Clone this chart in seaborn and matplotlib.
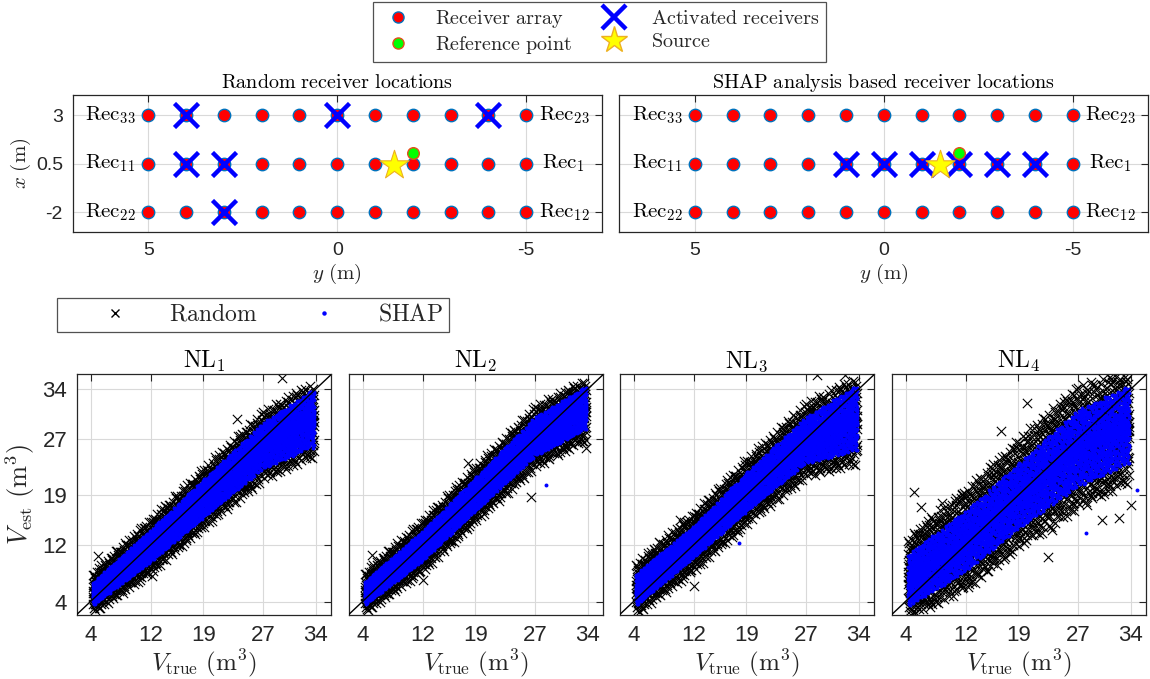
import numpy as np
import pandas as pd
import matplotlib
matplotlib.use('Agg')
import matplotlib.pyplot as plt
import seaborn as sns
from matplotlib.lines import Line2D

sns.set_theme(style='white')
plt.rcParams['font.family'] = ['Liberation Sans', 'DejaVu Sans']
plt.rcParams['mathtext.fontset'] = 'cm'
plt.rcParams['axes.unicode_minus'] = False

# ---------------- data: receiver layout ----------------
rec_y = [5, 4, 3, 2, 1, 0, -1, -2, -3, -4, -5]
rec_rows = [3, 0.5, -2]
rec_labels_left = [r'$\mathrm{Rec}_{33}$', r'$\mathrm{Rec}_{11}$', r'$\mathrm{Rec}_{22}$']
rec_labels_right = [r'$\mathrm{Rec}_{23}$', r'$\mathrm{Rec}_{1}$', r'$\mathrm{Rec}_{12}$']
random_active_y = [4, 0, -4, 4, 3, 3]
random_active_x = [3, 3, 3, 0.5, 0.5, -2]
shap_active_y = [1, 0, -1, -2, -3, -4]
shap_active_x = [0.5, 0.5, 0.5, 0.5, 0.5, 0.5]
ref_y = [-2]
ref_x = [1.05]
src_y = [-1.5]
src_x = [0.45]
y_ticks_top = [5, 0, -5]
x_ticks_top = [-2, 0.5, 3]
x_ticklabels_top = ['-2', '0.5', '3']

# ---------------- data: estimation scatter (band envelopes) ----------------
v_ticks = [4, 12, 19, 27, 34]
v_knots = [4, 12, 19, 27, 34]
v_true_min = 4.3
v_true_max = 33.8

nl1_shap_lo = [3.25, 9.6, 15.85, 22.75, 26.15]
nl1_shap_hi = [6.35, 14.1, 21.15, 29.25, 34.15]
nl1_rand_lo = [2.0, 8.0, 14.3, 21.1, 24.5]
nl1_rand_hi = [7.8, 15.7, 22.8, 30.9, 35.3]
nl1_out_true = [29.5, 33.7, 5.0, 12.2, 23.5, 33.5]
nl1_out_est = [35.6, 25.3, 10.4, 7.6, 29.7, 27.9]
nl1_shap_out_true = [31.0, 33.6]
nl1_shap_out_est = [24.6, 25.7]

nl2_shap_lo = [3.3, 9.75, 16.8, 24.5, 28.5]
nl2_shap_hi = [6.5, 13.95, 21.4, 30.0, 34.5]
nl2_rand_lo = [2.1, 8.2, 15.2, 22.8, 26.8]
nl2_rand_hi = [7.9, 15.5, 23.0, 31.6, 35.6]
nl2_out_true = [5.2, 12.0, 26.4, 33.7, 33.7, 18.1, 32.1]
nl2_out_est = [10.6, 7.0, 18.8, 25.6, 26.8, 23.5, 34.1]
nl2_shap_out_true = [28.4]
nl2_shap_out_est = [20.5]

nl3_shap_lo = [3.2, 10.2, 16.7, 23.55, 25.3]
nl3_shap_hi = [7.6, 14.6, 22.1, 30.05, 34.7]
nl3_rand_lo = [1.8, 8.3, 14.7, 21.5, 23.3]
nl3_rand_hi = [9.3, 16.5, 24.1, 32.1, 36.0]
nl3_out_true = [12.0, 10.2, 28.4, 32.2, 33.8, 33.5]
nl3_out_est = [6.2, 15.5, 36.0, 36.0, 25.4, 26.5]
nl3_shap_out_true = [18.0]
nl3_shap_out_est = [12.3]

nl4_shap_lo = [3.15, 8.25, 14.3, 20.25, 23.55]
nl4_shap_hi = [10.35, 16.75, 23.4, 31.05, 34.55]
nl4_rand_lo = [1.5, 5.6, 11.4, 17.0, 20.8]
nl4_rand_hi = [12.9, 19.9, 26.9, 34.6, 36.5]
nl4_out_true = [5.1, 6.0, 22.9, 23.5, 34.0, 16.7, 20.2, 30.2, 32.4, 8.9, 11.5]
nl4_out_est = [19.5, 17.4, 10.3, 14.1, 17.6, 28.0, 32.0, 15.5, 15.8, 17.9, 19.0]
nl4_shap_out_true = [34.8, 28.0]
nl4_shap_out_est = [19.8, 13.6]

panel_titles = [r'$\mathrm{NL}_1$', r'$\mathrm{NL}_2$', r'$\mathrm{NL}_3$', r'$\mathrm{NL}_4$']

panels = [
    (nl1_rand_lo, nl1_rand_hi, nl1_shap_lo, nl1_shap_hi, nl1_out_true, nl1_out_est, nl1_shap_out_true, nl1_shap_out_est),
    (nl2_rand_lo, nl2_rand_hi, nl2_shap_lo, nl2_shap_hi, nl2_out_true, nl2_out_est, nl2_shap_out_true, nl2_shap_out_est),
    (nl3_rand_lo, nl3_rand_hi, nl3_shap_lo, nl3_shap_hi, nl3_out_true, nl3_out_est, nl3_shap_out_true, nl3_shap_out_est),
    (nl4_rand_lo, nl4_rand_hi, nl4_shap_lo, nl4_shap_hi, nl4_out_true, nl4_out_est, nl4_shap_out_true, nl4_shap_out_est),
]


def van_der_corput(k, base):
    k = k.copy()
    out = np.zeros(len(k))
    f = 1.0 / base
    while np.any(k > 0):
        out += f * (k % base)
        k //= base
        f /= base
    return out


def fill_band(lo, hi, n, offset, p):
    # deterministic (Halton) fill of the band between the read envelopes,
    # denser towards the middle of the band (exponent p)
    k = np.arange(n) + offset
    u = van_der_corput(k, 2)
    w = van_der_corput(k, 3)
    vt = v_true_min + u * (v_true_max - v_true_min)
    l = np.interp(vt, v_knots, lo)
    h = np.interp(vt, v_knots, hi)
    t = 2 * w - 1
    c = 0.5 * (l + h)
    return vt, c + 0.5 * (h - l) * np.sign(t) * np.abs(t) ** p


W, H = 1150, 679
fig = plt.figure(figsize=(W / 100, H / 100), dpi=100)


def px_axes(x0, y0, x1, y1):
    return fig.add_axes([x0 / W, 1 - y1 / H, (x1 - x0) / W, (y1 - y0) / H])


MBLUE = (0, 0.447, 0.741)
GRAYTXT = (0.15, 0.15, 0.15)


def style_axes(ax, labelsize):
    for s in ax.spines.values():
        s.set_color(GRAYTXT)
        s.set_linewidth(0.9)
        s.set_visible(True)
    ax.tick_params(direction='in', top=True, right=True, length=5, width=0.8,
                   color=GRAYTXT, labelcolor=GRAYTXT, labelsize=labelsize, pad=7)
    ax.grid(True, color=(0.85, 0.85, 0.85), linewidth=0.8)
    ax.set_axisbelow(True)


# ---------------- top: receiver layouts ----------------
top_axes = [px_axes(72.7, 95, 601.7, 232.3), px_axes(619.3, 95, 1148.3, 232.3)]
top_titles = [r'$\mathrm{Random\ receiver\ locations}$',
              r'$\mathrm{SHAP\ analysis\ based\ receiver\ locations}$']
actives = [(random_active_y, random_active_x), (shap_active_y, shap_active_x)]

grid_y = [yy for r in rec_rows for yy in rec_y]
grid_x = [r for r in rec_rows for yy in rec_y]
rec_df = pd.DataFrame({'y': grid_y, 'x': grid_x})

for i, ax in enumerate(top_axes):
    style_axes(ax, 14)
    sns.scatterplot(data=rec_df, x='y', y='x', ax=ax, color='red', edgecolor=MBLUE,
                    linewidth=1.0, s=80, zorder=3, legend=False)
    ay, axx = actives[i]
    sns.scatterplot(x=ay, y=axx, ax=ax, marker='x', color='blue', s=300, linewidth=3.2,
                    zorder=4, legend=False)
    sns.scatterplot(x=ref_y, y=ref_x, ax=ax, color=(0, 1, 0), edgecolor=(0.9, 0.3, 0.1),
                    linewidth=1.0, s=70, zorder=5, legend=False)
    sns.scatterplot(x=src_y, y=src_x, ax=ax, marker='*', color=(1, 1, 0),
                    edgecolor=(0.93, 0.69, 0.13), linewidth=0.8, s=480, zorder=5, legend=False)
    for r, lab in zip(rec_rows, rec_labels_left):
        ax.text(6.0, r, lab, ha='center', va='center', fontsize=15, color='black')
    for r, lab in zip(rec_rows, rec_labels_right):
        ax.text(-6.0, r, lab, ha='center', va='center', fontsize=15, color='black')
    ax.set_xlim(7, -7)
    ax.set_ylim(-3.03, 4.03)
    ax.set_xticks(y_ticks_top)
    ax.set_xticklabels([str(t) for t in y_ticks_top])
    ax.set_yticks(x_ticks_top)
    ax.set_yticklabels(x_ticklabels_top if i == 0 else ['', '', ''])
    ax.set_title(top_titles[i], fontsize=14.5, pad=5, color='black')
    ax.set_xlabel(r'$y\ (\mathrm{m})$', fontsize=15, color=GRAYTXT, labelpad=2)
    ax.set_ylabel(r'$x\ (\mathrm{m})$' if i == 0 else '', fontsize=15, color=GRAYTXT, labelpad=2)

# top legend
top_handles = [
    Line2D([], [], ls='', marker='o', markerfacecolor='red', markeredgecolor=MBLUE, markersize=8),
    Line2D([], [], ls='', marker='o', markerfacecolor=(0, 1, 0), markeredgecolor=(0.9, 0.3, 0.1), markersize=8),
    Line2D([], [], ls='', marker='x', color='blue', markersize=17, markeredgewidth=3.2),
    Line2D([], [], ls='', marker='*', markerfacecolor=(1, 1, 0), markeredgecolor=(0.93, 0.69, 0.13), markersize=20),
]
top_labels = [r'$\mathrm{Receiver\ array}$', r'$\mathrm{Reference\ point}$',
              r'$\mathrm{Activated\ receivers}$', r'$\mathrm{Source}$']
leg1 = fig.legend(top_handles, top_labels, ncol=2, loc='upper left',
                  bbox_to_anchor=(373 / W, 1 - 2 / H), fontsize=14.5, frameon=True,
                  fancybox=False, edgecolor=GRAYTXT, borderpad=0.3, handlelength=1.9,
                  handletextpad=0.9, columnspacing=1.1, labelspacing=0.2, borderaxespad=0)
leg1.get_frame().set_linewidth(0.9)

# ---------------- bottom: estimation scatter ----------------
bx = [(77, 331), (349, 603), (620, 874), (892, 1146)]
for i, (x0, x1) in enumerate(bx):
    ax = px_axes(x0, 374, x1, 615)
    style_axes(ax, 16)
    rlo, rhi, slo, shi, ot, oe, sot, soe = panels[i]
    rv, re = fill_band(rlo, rhi, 1700 if i < 3 else 2000, 11 + 37 * i, 1.7)
    sv, se = fill_band(slo, shi, 3400, 5000 + 53 * i, 1.4)
    rdf = pd.DataFrame({'t': np.concatenate([rv, ot]), 'e': np.concatenate([re, oe])})
    sdf = pd.DataFrame({'t': np.concatenate([sv, sot]), 'e': np.concatenate([se, soe])})
    sns.scatterplot(data=rdf, x='t', y='e', ax=ax, marker='x', color='black', s=45,
                    linewidth=0.8, zorder=2, legend=False)
    sns.scatterplot(data=sdf, x='t', y='e', ax=ax, marker='o', color='blue', s=8,
                    linewidth=0, zorder=3, legend=False)
    diag = pd.DataFrame({'a': [0, 40], 'b': [0, 40]})
    sns.lineplot(data=diag, x='a', y='b', ax=ax, color='black', linewidth=1.0, zorder=4)
    ax.set_xlim(2.2, 36.0)
    ax.set_ylim(2.1, 36.1)
    ax.set_xticks(v_ticks)
    ax.set_yticks(v_ticks)
    ax.set_xticklabels([str(t) for t in v_ticks])
    if i == 0:
        ax.set_yticklabels([str(t) for t in v_ticks])
        ax.set_ylabel(r'$V_{\mathrm{est}}\ (\mathrm{m}^3)$', fontsize=19, color=GRAYTXT, labelpad=4)
    else:
        ax.set_yticklabels([])
        ax.set_ylabel('')
    ax.set_xlabel(r'$V_{\mathrm{true}}\ (\mathrm{m}^3)$', fontsize=18, color=GRAYTXT, labelpad=1)
    ax.set_title(panel_titles[i], fontsize=17, pad=4, color='black')

bot_handles = [Line2D([], [], ls='', marker='x', color='black', markersize=6, markeredgewidth=1.0),
               Line2D([], [], ls='', marker='o', color='blue', markersize=2.2)]
leg2 = fig.legend(bot_handles, [r'$\mathrm{Random}$', r'$\mathrm{SHAP}$'], ncol=2,
                  loc='upper left', bbox_to_anchor=(57 / W, 1 - 298 / H), fontsize=17,
                  frameon=True, fancybox=False, edgecolor=GRAYTXT, borderpad=0.25,
                  handlelength=4.4, handletextpad=0.1, columnspacing=0.6, borderaxespad=0)
leg2.get_frame().set_linewidth(0.9)

fig.savefig('out.png', dpi=100, facecolor='white')
